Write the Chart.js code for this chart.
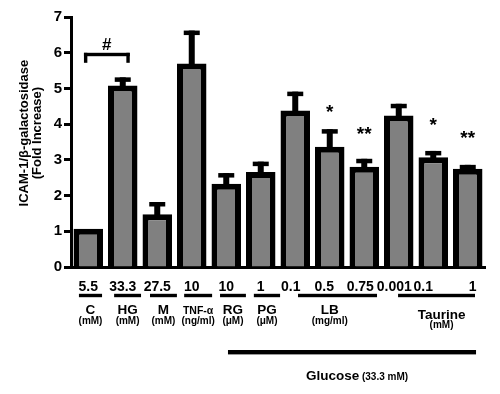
<!DOCTYPE html>
<html><head><meta charset="utf-8">
<script src="https://cdn.jsdelivr.net/npm/chart.js@4.4.0/dist/chart.umd.min.js"></script>
<style>html,body{margin:0;padding:0;background:#fff;}#wrap{width:500px;height:394px;position:relative;}</style>
</head><body><div id="wrap"><canvas id="c"></canvas></div>
<script>
// ---- data ----
const doseLabels = ['5.5','33.3','27.5','10','10','1','0.1','0.5','0.75','0.001','0.1','1'];
const meanValues = [1.07,5.08,1.48,5.70,2.33,2.66,4.38,3.37,2.81,4.24,3.07,2.75];
const semValues  = [0,0.23,0.34,0.92,0.30,0.29,0.53,0.49,0.22,0.33,0.18,0.11];
const yTickValues = [0,1,2,3,4,5,6,7];
const groupNames = ['C','HG','M','TNF-α','RG','PG','LB','Taurine'];
const groupUnits = ['(mM)','(mM)','(mM)','(ng/ml)','(μM)','(μM)','(mg/ml)','(mM)'];
const sigLabels = ['*','**','*','**'];
const sigBars = [7,8,10,11];
const sigLevels = [4.43,3.82,4.07,3.70];
const hashBars = [0,1];
const hashLevel = 5.95;
const yTitleLines = ['ICAM-1/β-galactosidase','(Fold Increase)'];
const treatmentLabel = 'Glucose';
const treatmentUnit = ' (33.3 mM)';

// ---- layout (positions/styles) ----
const FONT = "'Liberation Sans', Arial, Helvetica, sans-serif";
const doseShift = [0,0,0,0,0,0,-4.5,-5.5,-4,-4.5,-10,5];
const groupSpans = [[-0.27,0.40],[0.75,1.53],[1.79,2.57],[2.78,3.59],[3.82,4.57],[4.80,5.56],[6.08,8.37],[8.98,11.21]];
const groupLabelAt = [null,null,null,null,null,null,7.0,10.24];
const glucoseSpan = [4.05,11.24];

const annot = {
  id:'annot',
  afterDatasetsDraw(chart){
    const ctx = chart.ctx, ys = chart.scales.y;
    const meta = chart.getDatasetMeta(0);
    ctx.save();
    ctx.fillStyle = '#000';
    // error bars
    meanValues.forEach((m,i)=>{
      const e = semValues[i];
      if(!e) return;
      const x = meta.data[i].x;
      const yT = ys.getPixelForValue(m + e);
      const yB = ys.getPixelForValue(m);
      ctx.fillRect(x-3, yT, 6, yB - yT + 3);
      ctx.fillRect(x-8, yT, 16, 4.5);
    });
    // bracket + #
    const xa = meta.data[hashBars[0]].x - 4.3, xb = meta.data[hashBars[1]].x + 7;
    const yb = ys.getPixelForValue(hashLevel);
    ctx.fillRect(xa, yb-1.7, xb-xa, 3.4);
    ctx.fillRect(xa, yb-1.7, 3.4, 10);
    ctx.fillRect(xb-3.4, yb-1.7, 3.4, 10);
    const drawCentered = (txt, x, y, font) => {
      ctx.font = font;
      const m = ctx.measureText(txt);
      const asc = m.actualBoundingBoxAscent, desc = m.actualBoundingBoxDescent;
      ctx.textAlign = 'center'; ctx.textBaseline = 'alphabetic';
      ctx.fillText(txt, x, y + (asc - desc)/2);
    };
    drawCentered('#', (xa+xb)/2, ys.getPixelForValue(6.25), 'bold 17px '+FONT);
    sigLabels.forEach((t,k)=>{
      const x = meta.data[sigBars[k]].x;
      drawCentered(t, x, ys.getPixelForValue(sigLevels[k]), 'bold 19px '+FONT);
    });
    ctx.restore();
  },
  afterDraw(chart){
    const ctx = chart.ctx, xs = chart.scales.x, area = chart.chartArea;
    const meta = chart.getDatasetMeta(0);
    const x0 = xs.getPixelForValue(0), cw = xs.getPixelForValue(1) - x0;
    const fx = f => x0 + f*cw;
    const b = area.bottom;
    ctx.save();
    ctx.fillStyle = '#000';
    ctx.textAlign = 'center'; ctx.textBaseline = 'alphabetic';
    ctx.font = 'bold 14px '+FONT;
    doseLabels.forEach((t,i)=>{
      ctx.fillText(t, meta.data[i].x + doseShift[i], b + 24.3);
    });
    groupSpans.forEach((s,g)=>{
      const a = fx(s[0]), c = fx(s[1]);
      ctx.fillRect(a, b + 26.8, c - a, 3.4);
      const cx = groupLabelAt[g] === null ? (a + c)/2 : fx(groupLabelAt[g]);
      const isT = g === 7;
      if (g === 3) { ctx.font = 'bold 10.5px '+FONT; ctx.fillText(groupNames[g], cx, b + 46.7); }
      else { ctx.font = 'bold 13.5px '+FONT; ctx.fillText(groupNames[g], cx, b + (isT ? 51.7 : 46.7)); }
      ctx.font = 'bold 10px '+FONT;
      ctx.fillText(groupUnits[g], cx, b + (isT ? 61.3 : 57.3));
    });
    // glucose bar
    const ga = fx(glucoseSpan[0]), gc = fx(glucoseSpan[1]);
    ctx.fillRect(ga, b + 83, gc - ga, 4.4);
    ctx.font = 'bold 13.5px '+FONT;
    const w1 = ctx.measureText(treatmentLabel).width;
    ctx.font = 'bold 10px '+FONT;
    const w2 = ctx.measureText(treatmentUnit).width;
    const gx = 357 - (w1 + w2)/2;
    ctx.textAlign = 'left';
    ctx.font = 'bold 13.5px '+FONT;
    ctx.fillText(treatmentLabel, gx, b + 113);
    ctx.font = 'bold 10px '+FONT;
    ctx.fillText(treatmentUnit, gx + w1, b + 113);
    // y title
    const ys = chart.scales.y;
    ctx.save();
    ctx.translate(0, (ys.getPixelForValue(4.0) + ys.getPixelForValue(3.5))/2);
    ctx.rotate(-Math.PI/2);
    ctx.textAlign = 'center'; ctx.textBaseline = 'middle';
    ctx.font = 'bold 13px '+FONT;
    ctx.fillText(yTitleLines[0], 0, 24);
    ctx.fillText(yTitleLines[1], 0, 37.5);
    ctx.restore();
    ctx.restore();
  }
};

new Chart(document.getElementById('c'), {
  type:'bar',
  data:{
    labels: doseLabels.map((d,i)=>String(i)),
    datasets:[{
      data: meanValues,
      backgroundColor:'#808080',
      borderColor:'#000',
      borderWidth:6,
      borderSkipped:'bottom',
      barPercentage:0.855,
      categoryPercentage:1
    }]
  },
  options:{
    responsive:true, maintainAspectRatio:false, animation:false,
    devicePixelRatio:1,
    layout:{padding:{top:17,right:15,left:0,bottom:0}},
    plugins:{legend:{display:false},tooltip:{enabled:false},title:{display:false}},
    scales:{
      x:{
        type:'category',
        grid:{display:false},
        ticks:{display:false},
        border:{display:true,color:'#000',width:3},
        afterFit(s){ s.height = 127; }
      },
      y:{
        min:0,max:7,
        afterBuildTicks(s){ s.ticks = yTickValues.map(v=>({value:v})); },
        ticks:{color:'#000',font:{family:FONT,size:15,weight:'bold'},padding:2},
        grid:{drawOnChartArea:false,drawTicks:true,tickLength:7,tickWidth:3,tickColor:'#000',color:'#000'},
        border:{display:true,color:'#000',width:3},
        afterFit(s){ s.width = 71; }
      }
    }
  },
  plugins:[annot]
});
</script></body></html>
